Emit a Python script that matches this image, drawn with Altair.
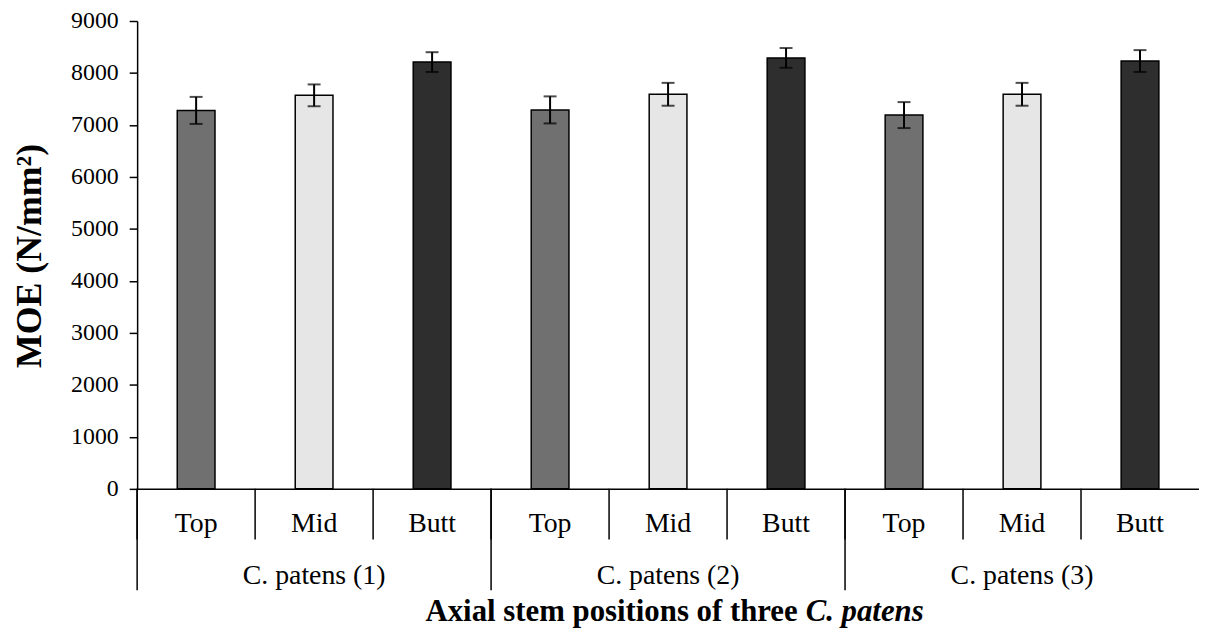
import altair as alt
import pandas as pd

groups = ["C. patens (1)", "C. patens (2)", "C. patens (3)"]
positions = ["Top", "Mid", "Butt"]
moe = [7280, 7570, 8210, 7290, 7590, 8290, 7190, 7590, 8230]
err = [260, 210, 190, 260, 220, 190, 250, 220, 210]
fills = {"Top": "#707070", "Mid": "#e6e6e6", "Butt": "#2e2e2e"}

rows = []
i = 0
for g in groups:
    for p in positions:
        rows.append({"key": f"{g}|{p}", "group": g, "pos": p,
                     "value": moe[i], "err": err[i]})
        i += 1
df = pd.DataFrame(rows)
keys = list(df["key"])

W, H = 1069, 471
FONT = "Liberation Serif"

x_scale = alt.Scale(domain=keys, paddingInner=0, paddingOuter=0)
x_axis = alt.Axis(title=None, labelExpr="split(datum.label, '|')[1]",
                  ticks=False, labelPadding=21, labelFontSize=28,
                  labelFont=FONT, labelColor="black", labelAngle=0,
                  labelOverlap=False, domainColor="black", domainWidth=1.5)
y_scale = alt.Scale(domain=[0, 9000], nice=False)
y_axis = alt.Axis(values=list(range(0, 10000, 1000)), format="d", tickSize=8,
                  tickColor="black", tickWidth=1.5, labelPadding=11,
                  labelFontSize=24, labelFont=FONT, labelColor="black",
                  grid=False, domainColor="black", domainWidth=1.5,
                  title="MOE (N/mm²)", titleFont=FONT, titleFontSize=36,
                  titleFontWeight="bold", titleColor="black",
                  titleX=-97, titleY=236, titleAngle=270,
                  titleBaseline="alphabetic", titleAlign="center")


def X(**kw):
    return alt.X("key:N", scale=x_scale, axis=x_axis, sort=keys, **kw)


base = alt.Chart(df)

bars = base.mark_bar(size=38, stroke="black", strokeWidth=1.5).encode(
    x=X(),
    y=alt.Y("value:Q", scale=y_scale, axis=y_axis),
    fill=alt.Fill("pos:N", scale=alt.Scale(domain=positions,
                                           range=[fills[p] for p in positions]),
                  legend=None),
)

eb = base.transform_calculate(lo="datum.value - datum.err",
                              hi="datum.value + datum.err")
err_rule = eb.mark_rule(color="black", strokeWidth=2).encode(
    x=X(), y=alt.Y("lo:Q", scale=y_scale, axis=y_axis), y2="hi:Q")
cap_hi = eb.mark_tick(color="black", size=13, thickness=2).encode(
    x=X(), y=alt.Y("hi:Q", scale=y_scale, axis=y_axis))
cap_lo = eb.mark_tick(color="black", size=13, thickness=2).encode(
    x=X(), y=alt.Y("lo:Q", scale=y_scale, axis=y_axis))

inner = alt.Chart(pd.DataFrame({"key": keys})).mark_rule(
    color="black", strokeWidth=1.5).encode(
    x=X(bandPosition=0), y=alt.value(H), y2=alt.value(H + 51))

group_start = [k for k in keys if k.endswith("|Top")]
outer = alt.Chart(pd.DataFrame({"key": group_start})).mark_rule(
    color="black", strokeWidth=1.5).encode(
    x=X(bandPosition=0), y=alt.value(H), y2=alt.value(H + 102))

group_mid = pd.DataFrame({"key": [k for k in keys if k.endswith("|Mid")],
                          "label": groups})
glabels = alt.Chart(group_mid).mark_text(
    font=FONT, fontSize=28, color="black", baseline="alphabetic",
    align="center").encode(x=X(), y=alt.value(H + 96), text="label:N")

title_a = alt.Chart(pd.DataFrame({"t": ["Axial stem positions of three"]})).mark_text(
    font=FONT, fontSize=31, fontWeight="bold", color="black",
    baseline="alphabetic", align="right").encode(
    x=alt.value(665), y=alt.value(604), text="t:N")
title_b = alt.Chart(pd.DataFrame({"t": ["C. patens"]})).mark_text(
    font=FONT, fontSize=31, fontWeight="bold", fontStyle="italic",
    color="black", baseline="alphabetic", align="left").encode(
    x=alt.value(673), y=alt.value(604), text="t:N")

chart = alt.layer(bars, err_rule, cap_hi, cap_lo, inner, outer, glabels,
                  title_a, title_b).properties(
    width=W, height=H,
    autosize=alt.AutoSizeParams(type="none"),
    padding={"left": 130, "top": 11, "right": 0, "bottom": 140},
    background="white",
).configure_view(stroke=None)

chart.save("out.html", embed_options={"renderer": "svg", "actions": False})
